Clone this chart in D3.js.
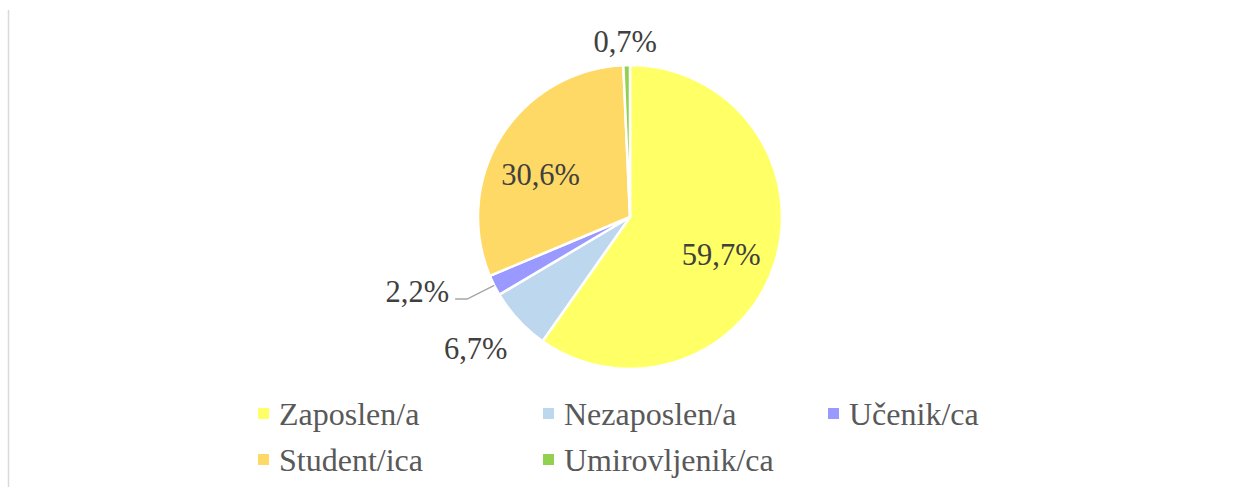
<!DOCTYPE html>
<html>
<head>
<meta charset="utf-8">
<script src="https://cdn.jsdelivr.net/npm/d3@7"></script>
<style>
  html, body { margin: 0; padding: 0; background: #fff; }
  svg { display: block; }
</style>
</head>
<body>
<svg id="chart"></svg>
<script>
const categories = ["Zaposlen/a", "Nezaposlen/a", "Učenik/ca", "Student/ica", "Umirovljenik/ca"];
const values = [59.7, 6.7, 2.2, 30.6, 0.7];
const labels = ["59,7%", "6,7%", "2,2%", "30,6%", "0,7%"];
const colors = ["#FFFF66", "#BDD7EE", "#9999FF", "#FFD966", "#92D050"];

const width = 1243, height = 487;
const cx = 630, cy = 217, R = 152;
const font = '"Liberation Serif", "Times New Roman", serif';

// label layout: radius factor (null = callout) and small nudges
const labelRad = [0.65, 1.33, null, 0.65, 1.15];
const labelNudge = [[-3, 8], [-6, -5], [0, 0], [-6, 11], [-1, 0]];

const svg = d3.select("#chart")
    .attr("width", width)
    .attr("height", height);

// border on the left edge of the chart area
svg.append("line")
    .attr("x1", 8.5).attr("x2", 8.5)
    .attr("y1", 10).attr("y2", height)
    .attr("stroke", "#d9d9d9")
    .attr("stroke-width", 1.5);

const pie = d3.pie().sort(null).value(d => d)(values);
const arc = d3.arc().innerRadius(0).outerRadius(R);

const g = svg.append("g").attr("transform", `translate(${cx},${cy})`);

g.selectAll("path")
  .data(pie)
  .join("path")
    .attr("d", arc)
    .attr("fill", (d, i) => colors[i])
    .attr("stroke", "#fff")
    .attr("stroke-width", 2.5)
    .attr("stroke-linejoin", "round");

pie.forEach((d, i) => {
  const a = (d.startAngle + d.endAngle) / 2;
  const px = r => Math.sin(a) * r, py = r => -Math.cos(a) * r;
  let t;
  if (labelRad[i] == null) {
    // callout with leader line
    const x0 = px(R), y0 = py(R), x1 = px(R * 1.2), y1 = py(R * 1.2);
    g.append("polyline")
      .attr("points", [[x0, y0], [x1, y1], [x1 - 12, y1]].map(p => p.join(",")).join(" "))
      .attr("fill", "none")
      .attr("stroke", "#a6a6a6")
      .attr("stroke-width", 1.5);
    t = g.append("text")
      .attr("x", x1 - 18).attr("y", y1 - 7)
      .attr("text-anchor", "end");
  } else {
    t = g.append("text")
      .attr("x", px(R * labelRad[i]) + labelNudge[i][0])
      .attr("y", py(R * labelRad[i]) + labelNudge[i][1])
      .attr("text-anchor", "middle");
  }
  t.attr("dominant-baseline", "central")
    .attr("font-size", 30.5)
    .attr("fill", "#404040")
    .style("font-family", font)
    .text(labels[i]);
});

// legend
const legend = svg.append("g").attr("transform", "translate(258,413)");
const item = legend.selectAll("g")
  .data(categories)
  .join("g")
    .attr("transform", (d, i) => `translate(${(i % 3) * 285},${Math.floor(i / 3) * 46})`);

item.append("rect")
    .attr("x", 0).attr("y", -5)
    .attr("width", 11).attr("height", 11)
    .attr("fill", (d, i) => colors[i]);

item.append("text")
    .attr("x", 21).attr("y", 1)
    .attr("dominant-baseline", "central")
    .attr("font-size", 32)
    .attr("fill", "#595959")
    .style("font-family", font)
    .text(d => d);
</script>
</body>
</html>
